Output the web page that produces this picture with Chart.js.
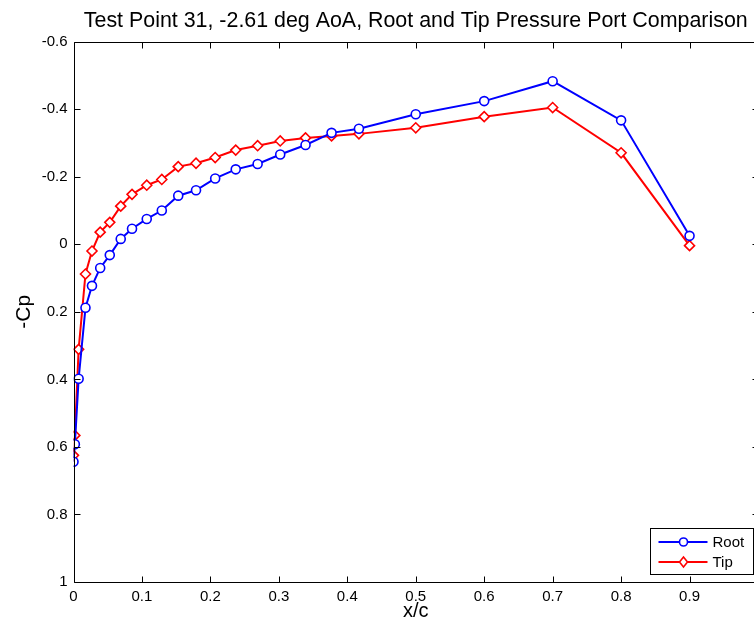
<!DOCTYPE html>
<html>
<head>
<meta charset="utf-8">
<script src="https://cdn.jsdelivr.net/npm/chart.js@4.4.1/dist/chart.umd.min.js"></script>
<style>
    html, body { margin: 0; padding: 0; background: #fff; overflow: hidden; }
    #wrap { width: 780px; height: 627px; }
</style>
</head>
<body>
<div id="wrap"><canvas id="cpChart" width="780" height="627"></canvas></div>
<script>
// port locations (x/c), shared by root and tip rows
const xc = [0, 0.002, 0.0075, 0.0175, 0.027, 0.039, 0.053, 0.069, 0.0855, 0.107, 0.129, 0.153, 0.179,
    0.207, 0.237, 0.269, 0.302, 0.339, 0.377, 0.417, 0.5, 0.6, 0.7, 0.8, 0.9];

const rootCp = [0.644, 0.592, 0.398, 0.188, 0.123, 0.070, 0.032, -0.016, -0.046, -0.075, -0.100, -0.144, -0.160,
    -0.195, -0.222, -0.238, -0.266, -0.294, -0.330, -0.342, -0.385, -0.424, -0.483, -0.367, -0.025];

const tipCp = [0.625, 0.566, 0.311, 0.088, 0.020, -0.036, -0.065, -0.113, -0.148, -0.175, -0.192, -0.230, -0.240,
    -0.257, -0.279, -0.292, -0.306, -0.315, -0.321, -0.327, -0.345, -0.378, -0.405, -0.271, 0.004];

const xTickValues = [0, 0.1, 0.2, 0.3, 0.4, 0.5, 0.6, 0.7, 0.8, 0.9, 1];
const yTickValues = [-0.6, -0.4, -0.2, 0, 0.2, 0.4, 0.6, 0.8, 1];

const FONT = '"Liberation Sans", Arial, sans-serif';
Chart.defaults.font.family = FONT;
Chart.defaults.color = '#000';

function toPoints(ys) {
    return xc.map((x, i) => ({ x: x, y: ys[i] }));
}

function fmt(v) {
    return String(Math.round(v * 10) / 10);
}

// MATLAB style box with inward ticks on all four sides
const axesBox = {
    id: 'axesBox',
    afterDatasetsDraw(chart) {
        const { ctx, chartArea: a, scales: { x, y } } = chart;
        const L = Math.round(a.left) + 0.5, R = Math.round(a.right) + 0.5;
        const T = Math.round(a.top) + 0.5, B = Math.round(a.bottom) + 0.5;
        ctx.save();
        ctx.strokeStyle = '#000';
        ctx.lineWidth = 1;
        ctx.beginPath();
        ctx.rect(L, T, R - L, B - T);
        x.ticks.forEach(t => {
            const px = Math.round(x.getPixelForValue(t.value)) + 0.5;
            ctx.moveTo(px, B); ctx.lineTo(px, B - 6);
            ctx.moveTo(px, T); ctx.lineTo(px, T + 6);
        });
        y.ticks.forEach(t => {
            const py = Math.round(y.getPixelForValue(t.value)) + 0.5;
            ctx.moveTo(L, py); ctx.lineTo(L + 6, py);
            ctx.moveTo(R, py); ctx.lineTo(R - 6, py);
        });
        ctx.stroke();
        ctx.restore();
    }
};

// legend box in the lower right corner of the axes
const boxLegend = {
    id: 'boxLegend',
    afterDraw(chart) {
        const { ctx, chartArea: a } = chart;
        const w = 103, h = 46;
        const left = Math.round(a.right - 5 - w) + 0.5;
        const top = Math.round(a.bottom - 8 - h) + 0.5;
        ctx.save();
        ctx.fillStyle = '#fff';
        ctx.fillRect(left, top, w, h);
        ctx.strokeStyle = '#000';
        ctx.lineWidth = 1;
        ctx.strokeRect(left, top, w, h);
        ctx.font = '15px ' + FONT;
        ctx.textBaseline = 'middle';
        chart.data.datasets.forEach((ds, i) => {
            const cy = top + 13.5 + i * 20;
            const mx = left + 33;
            ctx.strokeStyle = ds.borderColor;
            ctx.lineWidth = ds.borderWidth;
            ctx.beginPath();
            ctx.moveTo(left + 8, cy);
            ctx.lineTo(left + 57, cy);
            ctx.stroke();
            ctx.lineWidth = ds.pointBorderWidth;
            ctx.fillStyle = '#fff';
            ctx.beginPath();
            if (ds.pointStyle === 'rectRot') {
                const r = ds.pointRadius;
                ctx.moveTo(mx - r + 1, cy); ctx.lineTo(mx, cy - r);
                ctx.lineTo(mx + r - 1, cy); ctx.lineTo(mx, cy + r);
                ctx.closePath();
            } else {
                ctx.arc(mx, cy, ds.pointRadius - 0.5, 0, Math.PI * 2);
            }
            ctx.fill();
            ctx.stroke();
            ctx.fillStyle = '#000';
            ctx.fillText(ds.label, left + 62, cy + 1);
        });
        ctx.restore();
    }
};

const data = {
    datasets: [{
            label: 'Root',
            data: toPoints(rootCp),
            showLine: true,
            borderColor: '#0000FF',
            borderWidth: 2,
            pointStyle: 'circle',
            pointRadius: 4.5,
            pointBorderWidth: 1.6,
            pointBackgroundColor: '#fff',
            pointBorderColor: '#0000FF'
        },
        {
            label: 'Tip',
            data: toPoints(tipCp),
            showLine: true,
            borderColor: '#FF0000',
            borderWidth: 2,
            pointStyle: 'rectRot',
            pointRadius: 5,
            pointBorderWidth: 1.6,
            pointBackgroundColor: '#fff',
            pointBorderColor: '#FF0000'
        }
    ]
};

const config = {
    type: 'scatter',
    data: data,
    options: {
        responsive: false,
        animation: false,
        layout: { padding: { left: 0, right: 22, top: 0, bottom: 0 } },
        plugins: {
            legend: { display: false },
            tooltip: { enabled: false },
            title: {
                display: true,
                fullSize: false,
                text: 'Test Point 31, -2.61 deg AoA, Root and Tip Pressure Port Comparison',
                font: { size: 21.4, weight: 'normal' },
                color: '#000',
                padding: { top: 8, bottom: 8 }
            }
        },
        scales: {
            x: {
                type: 'linear',
                min: 0,
                max: 1,
                grid: { display: false, drawTicks: false },
                border: { display: false },
                afterBuildTicks: s => { s.ticks = xTickValues.map(v => ({ value: v })); },
                afterFit: s => { s.height = 45; },
                ticks: {
                    padding: 6,
                    maxRotation: 0,
                    font: { size: 15 },
                    callback: v => (v >= 1 ? '' : fmt(v))
                },
                title: {
                    display: true,
                    text: 'x/c',
                    font: { size: 20 },
                    padding: { top: 0, bottom: 4 }
                }
            },
            y: {
                type: 'linear',
                reverse: true,
                min: -0.6,
                max: 1,
                grid: { display: false, drawTicks: false },
                border: { display: false },
                afterBuildTicks: s => { s.ticks = yTickValues.map(v => ({ value: v })); },
                afterFit: s => { s.width = 73.5; },
                ticks: {
                    padding: 6,
                    font: { size: 15 },
                    callback: v => fmt(v)
                },
                title: {
                    display: true,
                    text: '-Cp',
                    font: { size: 21 },
                    padding: { top: 12, bottom: 0 }
                }
            }
        }
    },
    plugins: [axesBox, boxLegend]
};

const cpChart = new Chart('cpChart', config);
</script>
</body>
</html>
